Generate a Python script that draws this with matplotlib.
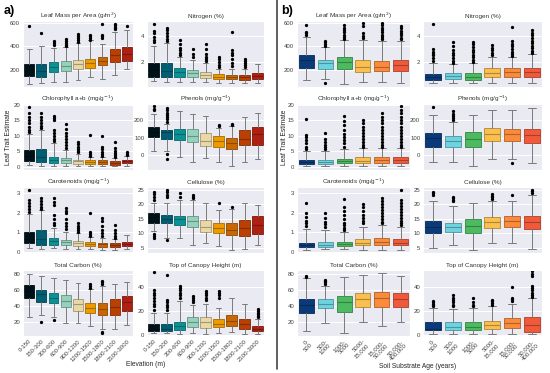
import matplotlib
matplotlib.use('Agg')
import matplotlib.pyplot as plt
import seaborn as sns
from matplotlib.lines import Line2D
from matplotlib.colors import to_rgb

sns.set_style('darkgrid')
plt.rcParams['font.family'] = ['Liberation Sans', 'DejaVu Sans']
plt.rcParams['text.color'] = '.15'

# groups
elev_labels = ['0-150', '150-300', '300-600', '600-900', '900-1200',
               '1200-1500', '1500-1800', '1800-2100', '2100-3000']
age_labels = ['0-\n500', '500-\n1000', '1000-\n5000', '5000-\n15,000',
              '15,000-\n50,000', '50,000-\n400,000']
elev_colors = ['#001219', '#005f73', '#0a9396', '#94d2bd', '#e9d8a6',
               '#ee9b00', '#ca6702', '#bb3e03', '#ae2012']
age_colors = ['#0a3a7a', '#6dd3e0', '#4cbb5f', '#fbbf4f', '#fb8b3a', '#f05a3a']

# box stats per group: whislo, q1, median, q3, whishi
lma_elev = [[80, 150, 200, 245, 380], [89, 135, 191, 246, 403], [95, 180, 226, 266, 383],
            [95, 191, 232, 272, 397], [112, 209, 246, 283, 431], [135, 217, 257, 289, 455],
            [123, 238, 272, 306, 420], [152, 266, 323, 377, 526], [203, 274, 332, 392, 540]]
lma_elev_fl = [[570], [512], [445, 430, 415], [460, 445, 430, 415, 405],
               [505, 485, 470, 455, 440], [500, 485, 470, 458], [590, 500, 485, 470],
               [590, 580, 568, 555, 545], [575]]

n_elev = [[0.54, 0.87, 1.40, 1.90, 3.23], [0.49, 0.87, 1.33, 1.90, 3.44],
          [0.49, 0.87, 1.25, 1.51, 2.36], [0.49, 0.87, 1.13, 1.41, 2.15],
          [0.44, 0.74, 0.97, 1.26, 1.95], [0.41, 0.67, 0.87, 1.08, 1.46],
          [0.41, 0.67, 0.85, 1.00, 1.46], [0.36, 0.59, 0.82, 0.97, 1.48],
          [0.41, 0.67, 0.92, 1.13, 1.82]]
n_elev_fl = [[4.92, 4.4, 4.2, 3.9, 3.7, 3.5], [4.65, 4.45, 4.25, 4.0, 3.8, 3.6],
             [3.7, 3.4, 3.1, 2.9, 2.7, 2.55], [3.0, 2.6, 2.4],
             [3.4, 3.0, 2.6, 2.4, 2.2, 2.1], [2.4, 2.2, 2.0, 1.8, 1.65],
             [4.3, 2.9, 2.7, 2.5, 2.2, 1.9, 1.7], [2.25, 2.1, 1.95, 1.8, 1.65], []]

chl_elev = [[0.5, 1.7, 3.5, 5.3, 10.7], [0.3, 1.4, 3.0, 5.6, 11.8], [0.3, 1.2, 2.2, 3.2, 7.8],
            [0.3, 1.2, 2.0, 2.7, 5.3], [0.3, 0.85, 1.7, 2.2, 4.0], [0.2, 0.85, 1.4, 2.1, 3.2],
            [0.2, 0.75, 1.4, 2.0, 3.0], [0.2, 0.5, 1.3, 1.9, 2.8], [0.3, 1.2, 1.8, 2.2, 3.3]]
chl_elev_fl = [[19.3, 17.5, 16.0, 15.0, 14.0, 13.0, 12.0, 11.2],
               [17.3, 16.0, 15.0, 14.0, 13.2, 12.4],
               [16.5, 15.8, 15.0, 12.0, 11.0, 10.0, 9.0, 8.3],
               [13.9, 12.2, 11.0, 10.0, 9.0, 8.0, 7.0, 6.0],
               [8.0, 7.2, 6.5, 5.8, 5.2, 4.6], [10.3, 4.6, 4.0, 3.6],
               [9.9, 6.5, 5.6, 4.8, 4.0, 3.5], [8.0, 6.0, 5.2, 4.5, 3.8, 3.2],
               [4.6, 4.2, 3.8]]

phen_elev = [[25, 106, 132, 162, 238], [25, 94, 132, 147, 180], [-13, 85, 123, 151, 255],
             [-38, 77, 109, 153, 236], [-17, 53, 81, 128, 226], [-38, 49, 81, 109, 157],
             [-60, 38, 72, 100, 166], [-38, 57, 91, 142, 219], [-23, 60, 119, 162, 242]]
phen_elev_fl = [[280, 268, 257], [270, 258, 245, 232, 220, 205, 193, 6, -23], [], [], [],
                [175, 166], [181, 172], [], []]

car_elev = [[0.17, 0.43, 0.63, 1.03, 1.94], [0.14, 0.34, 0.63, 1.11, 2.14],
            [0.17, 0.34, 0.55, 0.69, 1.20], [0.14, 0.34, 0.51, 0.60, 1.03],
            [0.12, 0.31, 0.45, 0.55, 0.94], [0.12, 0.27, 0.39, 0.50, 0.74],
            [0.10, 0.26, 0.38, 0.46, 0.72], [0.10, 0.26, 0.34, 0.46, 0.63],
            [0.14, 0.29, 0.41, 0.51, 0.86]]
car_elev_fl = [[3.17, 2.66, 2.5, 2.35, 2.2, 2.05], [2.74, 2.6, 2.45, 2.3, 2.2],
               [2.74, 2.57, 2.4, 1.9, 1.7, 1.5, 1.35], [2.26, 2.1, 1.97, 1.7, 1.5, 1.3, 1.15],
               [1.46, 1.3, 1.2, 1.1, 1.0], [1.97, 1.0, 0.9, 0.8],
               [1.72, 1.6, 1.3, 1.1, 0.95, 0.8], [1.37, 1.1, 0.95, 0.8, 0.7], []]

cell_elev = [[10.9, 13.7, 15.5, 16.9, 20.4], [8.2, 13.4, 14.9, 16.3, 20.6],
             [8.2, 12.9, 14.8, 16.0, 21.5], [5.9, 12.3, 14.4, 16.0, 21.5],
             [6.5, 10.5, 12.3, 14.6, 20.4], [5.6, 10.0, 11.7, 13.7, 18.1],
             [4.2, 9.4, 11.1, 13.4, 18.3], [4.7, 9.0, 11.7, 14.6, 20.4],
             [5.9, 9.7, 12.9, 15.8, 19.8]]
cell_elev_fl = [[24.4, 23.5, 22.5, 21.5, 9.8, 9.0, 8.2], [25.0, 24.2, 23.4, 22.7, 7.7],
                [23.8, 22.7], [23.3, 22.6, 22.1], [], [20.4], [19.2], [], []]

c_elev = [[27, 50, 59, 66.4, 80], [29, 45.7, 55, 60, 77.5], [27, 43.6, 50, 56, 74.6],
          [18.8, 39.5, 47, 54, 72.6], [18.8, 34.5, 42.4, 48.6, 68.4], [15.4, 31.2, 38.2, 44.4, 61],
          [11.7, 29, 36, 43.6, 65], [11.3, 29, 39.5, 48.6, 67.6], [16.7, 34.5, 44.8, 53, 70.5]]
c_elev_fl = [[], [20.8], [23], [], [], [67.6, 65, 62.5], [71.7, 69.5, 67.6, 8.4, 6.3], [], []]

h_elev = [[1.4, 2.9, 5, 9.4, 18], [1.4, 2.9, 5, 9, 18.5], [0.9, 3.7, 7.4, 10.9, 28],
          [1.4, 6.6, 10.9, 14.6, 24.6], [0.9, 6, 10.3, 14.6, 25.7], [1.4, 6.6, 9.4, 13.1, 22.3],
          [2.3, 7.4, 11.4, 16.6, 30.9], [0.9, 4.6, 8.6, 13.1, 25.7], [0.9, 2.9, 4.6, 7.4, 13.5]]
h_elev_fl = [[52, 37, 35, 33, 31, 28, 26, 24, 21], [50, 29, 27, 25, 23, 21],
             [41, 39, 37, 35, 33, 31], [32, 30.5, 29, 27.5], [36.6, 35, 33, 31, 29],
             [36.6, 35, 33, 31], [], [], [21.5, 20, 18.5, 17, 15.5, 14.5]]

lma_age = [[108, 214, 281, 324, 476], [117, 209, 258, 281, 396], [79, 209, 266, 309, 453],
           [94, 180, 223, 286, 453], [94, 186, 223, 275, 447], [85, 186, 237, 286, 447]]
lma_age_fl = [[583, 525, 510, 496], [450, 435, 420, 405, 85],
              [583, 560, 540, 520, 500, 480, 465], [597, 575, 510, 490, 470],
              [597, 580, 560, 540, 520, 500, 480, 465], [574, 555, 535, 515, 495, 475, 460]]

n_age = [[0.36, 0.62, 0.87, 1.08, 1.95], [0.41, 0.67, 0.92, 1.13, 1.82],
         [0.36, 0.62, 0.87, 1.13, 1.90], [0.41, 0.87, 1.18, 1.51, 2.40],
         [0.41, 0.87, 1.26, 1.51, 2.36], [0.41, 0.87, 1.26, 1.51, 2.62]]
n_age_fl = [[4.92, 2.97, 2.8, 2.65, 2.5, 2.3, 2.1], [3.5, 3.2, 2.9, 2.7, 2.5, 2.3, 2.1, 1.95],
            [3.56, 3.35, 3.15, 2.95, 2.75, 2.55, 2.35, 2.15, 2.0], [3.3, 3.1, 2.9, 2.7, 2.55],
            [4.7, 3.6, 3.4, 3.2, 3.0, 2.8, 2.6, 2.45],
            [4.46, 4.25, 4.05, 3.85, 3.65, 3.45, 3.25, 3.05, 2.85, 2.7]]

chl_age = [[0.3, 0.85, 1.4, 2.1, 5.1], [0.3, 0.85, 1.6, 2.1, 5.1], [0.3, 1.06, 1.7, 2.4, 5.6],
           [0.3, 1.2, 1.9, 3.2, 5.9], [0.3, 1.2, 2.0, 3.0, 5.9], [0.3, 1.2, 2.0, 3.0, 5.9]]
chl_age_fl = [[15.4, 10.4, 9.5, 8.5, 7.5, 6.5, 5.6], [11.0, 9.0, 8.0, 7.0, 6.2, 5.6],
              [16.5, 14.7, 13.5, 12.0, 10.5, 9.5, 8.5, 7.5, 6.5],
              [15.2, 14.0, 13.0, 12.0, 11.0, 10.0, 9.0, 8.0, 7.0, 6.4],
              [17.3, 16.2, 15.0, 14.0, 13.0, 12.0, 11.0, 10.0, 9.0, 8.0, 7.0, 6.4],
              [19.5, 18.4, 17.3, 16.2, 15.1, 14.0, 13.0, 12.0, 11.0, 10.0, 9.0, 8.0, 7.0, 6.4]]

phen_age = [[-38, 49, 100, 128, 232], [-38, 49, 81, 109, 189], [-64, 49, 94, 132, 232],
            [-23, 81, 123, 157, 257], [-23, 81, 123, 153, 260], [-42, 72, 115, 151, 270]]
phen_age_fl = [[279], [251, 238, 225, 212, 200], [], [], [-45], []]

car_age = [[0.09, 0.22, 0.34, 0.46, 1.15], [0.12, 0.26, 0.34, 0.48, 1.11],
           [0.12, 0.29, 0.41, 0.51, 1.03], [0.09, 0.34, 0.46, 0.67, 1.29],
           [0.09, 0.34, 0.50, 0.69, 1.37], [0.09, 0.34, 0.46, 0.63, 1.29]]
car_age_fl = [[2.52, 1.97, 1.8, 1.6, 1.45, 1.3], [1.97, 1.72, 1.55, 1.4, 1.25],
              [2.7, 2.3, 2.1, 1.9, 1.7, 1.5, 1.35, 1.2, 1.1],
              [2.45, 2.3, 2.1, 1.9, 1.75, 1.6, 1.45],
              [2.74, 2.6, 2.45, 2.3, 2.15, 2.0, 1.85, 1.7, 1.55, 1.45],
              [3.17, 2.66, 2.5, 2.35, 2.2, 2.05, 1.9, 1.75, 1.6, 1.45, 1.35]]

cell_age = [[4.8, 10.2, 12.3, 14.4, 21.3], [5.9, 10.5, 12.1, 13.7, 19.5],
            [4.2, 10.0, 12.5, 14.8, 20.4], [6.5, 11.7, 14.0, 15.5, 21.0],
            [6.7, 12.1, 14.4, 16.0, 21.0], [4.5, 11.4, 14.0, 16.0, 23.3]]
cell_age_fl = [[24.4, 23.8, 23.3], [22.7, 22.1, 21.6, 21.0], [], [23.6, 23.0, 22.4, 21.8],
               [23.3], [25.0, 24.5, 24.0]]

c_age = [[9.2, 32, 41.5, 49, 74.6], [18.8, 37.4, 42.4, 48.6, 65], [6.3, 33.2, 44.8, 52.7, 76.7],
         [20, 39.5, 49, 56, 78.8], [15.4, 39.5, 49.8, 57.3, 81], [20.8, 39.5, 49, 56, 77.5]]
c_age_fl = [[77.5, 76.5], [72.6, 71, 69.5, 68], [], [], [], []]

h_age = [[0.9, 3.7, 5.1, 10.9, 22.3], [0.9, 3.7, 6.6, 10.9, 21.4], [0.9, 3.7, 6.6, 10.3, 22.3],
         [0.9, 4.6, 8.0, 11.7, 23.7], [0.9, 6.0, 10.0, 14.3, 26.0], [0.9, 2.3, 8.0, 14.6, 30.9]]
h_age_fl = [[28, 27, 26, 25, 24], [33, 31, 29, 27, 25, 24], [31, 27, 25, 24],
            [29.4, 28, 26.5, 25], [40, 31, 30, 28], [53, 51, 49, 41, 39, 37, 35, 33, 31.5]]

titles = ['Leaf Mass per Area (g/m$^2$)', 'Nitrogen (%)',
          'Chlorophyll a+b (mg/g$^{-1}$)', 'Phenols (mg/g$^{-1}$)',
          'Carotenoids (mg/g$^{-1}$)', 'Cellulose (%)',
          'Total Carbon (%)', 'Top of Canopy Height (m)']
ylims = [(52, 617), (0.08, 5.15), (-1.1, 20.3), (-85, 294),
         (-0.07, 3.33), (3.15, 26), (3, 85), (-1, 54)]
yticks = [[200, 400, 600], [2, 4], [0, 5, 10, 15, 20], [0, 100, 200],
          [0, 1, 2, 3], [5, 10, 15, 20, 25], [20, 40, 60, 80], [0, 20, 40]]

elev_panels = [(lma_elev, lma_elev_fl), (n_elev, n_elev_fl), (chl_elev, chl_elev_fl),
               (phen_elev, phen_elev_fl), (car_elev, car_elev_fl), (cell_elev, cell_elev_fl),
               (c_elev, c_elev_fl), (h_elev, h_elev_fl)]
age_panels = [(lma_age, lma_age_fl), (n_age, n_age_fl), (chl_age, chl_age_fl),
              (phen_age, phen_age_fl), (car_age, car_age_fl), (cell_age, cell_age_fl),
              (c_age, c_age_fl), (h_age, h_age_fl)]

W, H = 550, 373
fig = plt.figure(figsize=(W / 100, H / 100), dpi=100, facecolor='white')


def darker(c, f=0.7):
    r, g, b = to_rgb(c)
    return (r * f, g * f, b * f)


def draw_panel(rect, rows, fliers, colors, labels, idx, bottom):
    x0, x1, ytop = rect
    ax = fig.add_axes([x0 / W, 1 - (ytop + 66) / H, (x1 - x0) / W, 66 / H])
    stats = []
    for (lo, q1, med, q3, hi), fl in zip(rows, fliers):
        stats.append(dict(whislo=lo, q1=q1, med=med, q3=q3, whishi=hi, fliers=fl))
    bp = ax.bxp(stats, positions=list(range(len(stats))), widths=0.8,
                patch_artist=True, manage_ticks=False,
                whiskerprops=dict(color='#7a7a7a', lw=0.7),
                capprops=dict(color='#7a7a7a', lw=0.7),
                flierprops=dict(marker='o', markersize=1.35, markerfacecolor='k',
                                markeredgecolor='k', linestyle='none'))
    for box, med, col in zip(bp['boxes'], bp['medians'], colors):
        box.set_facecolor(col)
        box.set_edgecolor(darker(col))
        box.set_linewidth(0.6)
        med.set_color(darker(col))
        med.set_linewidth(0.8)
    ax.set_xlim(-0.5, len(stats) - 0.5)
    ax.set_ylim(*ylims[idx])
    ax.set_yticks(yticks[idx])
    ax.xaxis.grid(False)
    ax.yaxis.grid(True, color='white', lw=0.7)
    ax.tick_params(axis='both', length=0, pad=2, labelsize=4.3, labelcolor='.25')
    ax.set_title(titles[idx], fontsize=4.6, pad=2.5, color='.2')
    ax.set_xticks(range(len(stats)))
    if bottom:
        ax.set_xticklabels(labels, rotation=45, ha='right', rotation_mode='anchor',
                           fontsize=4.3, linespacing=0.95)
    else:
        ax.set_xticklabels([])
    return ax


row_tops = [21, 104, 187, 270]
cols_a = [(23, 133), (147, 264)]
cols_b = [(297, 410), (423, 542)]

for i in range(8):
    r, c = divmod(i, 2)
    rows, fl = elev_panels[i]
    draw_panel((cols_a[c][0], cols_a[c][1], row_tops[r]), rows, fl, elev_colors,
               elev_labels, i, r == 3)
    rows, fl = age_panels[i]
    draw_panel((cols_b[c][0], cols_b[c][1], row_tops[r]), rows, fl, age_colors,
               age_labels, i, r == 3)

# panel letters, shared labels, separator
fig.text(4 / W, 1 - 11 / H, 'a)', fontsize=9, fontweight='bold', va='center', color='k')
fig.text(281 / W, 1 - 11 / H, 'b)', fontsize=9, fontweight='bold', va='center', color='k')
fig.text(8.5 / W, 1 - 137 / H, 'Leaf Trait Estimate', rotation=90, fontsize=4.8,
         ha='center', va='center')
fig.text(284.5 / W, 1 - 137 / H, 'Leaf Trait Estimate', rotation=90, fontsize=4.8,
         ha='center', va='center')
fig.text(146 / W, 1 - 365 / H, 'Elevation (m)', fontsize=4.8, ha='center', va='center')
fig.text(418 / W, 1 - 366 / H, 'Soil Substrate Age (years)', fontsize=4.8,
         ha='center', va='center')
fig.add_artist(Line2D([276.5 / W, 276.5 / W], [4 / H, 1], transform=fig.transFigure,
                      color='#444444', lw=1.2))

fig.savefig('out.png', dpi=100, facecolor='white')
